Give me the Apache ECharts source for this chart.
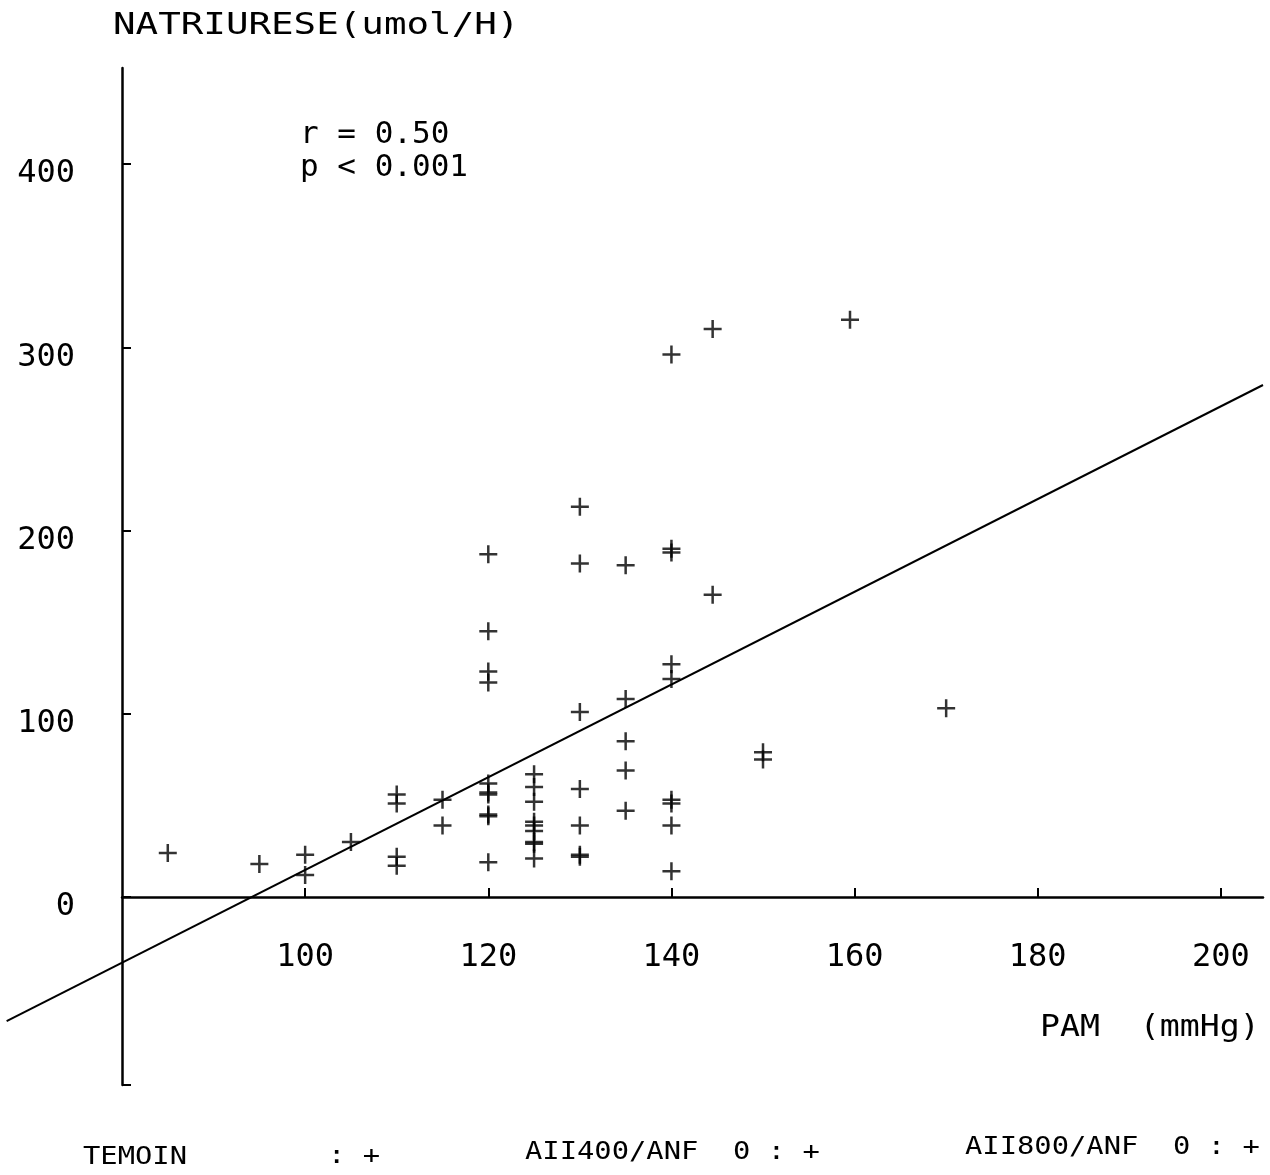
<!DOCTYPE html>
<html>
<head>
<meta charset="utf-8">
<script src="https://cdn.jsdelivr.net/npm/echarts@6/dist/echarts.min.js"></script>
<style>
html,body{margin:0;padding:0;background:#fff;}
#chart{width:1270px;height:1175px;}
</style>
</head>
<body>
<div id="chart"></div>
<script>
// PAM (mmHg) values of each point
const pam = [85,95,100,100,105,110,110,110,110,115,115,
  120,120,120,120,120,120,120,120,120,120,
  125,125,125,125,125,125,125,125,125,
  130,130,130,130,130,130,130,
  135,135,135,135,135,
  140,140,140,140,140,140,140,140,140,
  144.5,144.5,150,150,159.5,170];
// NATRIURESE (umol/H) values of each point
const natri = [24,18,23,12,30,56,51,22,17,53,39,
  187,145,123,117,62,57,56,45,44,19,
  67,60,52,41,39,36,30,29,21,
  213,182,101,59,39,23,22,
  181,108,85,69,47,
  296,190,188,127,119,53,51,39,14,
  310,165,79,75,315,103];
// regression line end points
const fitX = [67.4, 204.6];
const fitY = [-67.7, 279.4];
// tick labels
const xTicks = [100,120,140,160,180,200];
const yTicks = [0,100,200,300,400];

const FONT = '"DejaVu Sans Mono", monospace';
const chart = echarts.init(document.getElementById('chart'), null, {renderer:'canvas'});
chart.setOption({
  backgroundColor:'#fff',
  animation:false,
  grid:{left:122,right:7,top:68,bottom:90,containLabel:false},
  xAxis:{
    type:'value', min:80, max:204.6,
    axisLine:{onZero:true, lineStyle:{color:'#000', width:2.5}},
    axisTick:{show:true, inside:true, length:9, customValues:xTicks, lineStyle:{color:'#000', width:2}},
    axisLabel:{customValues:xTicks, margin:-143, color:'#000', fontFamily:FONT, fontSize:32},
    splitLine:{show:false}
  },
  yAxis:{
    type:'value', min:-102.6, max:452.4,
    axisLine:{onZero:false, lineStyle:{color:'#000', width:2.5}},
    axisTick:{show:true, inside:true, length:9, customValues:[-102.6].concat(yTicks), lineStyle:{color:'#000', width:2}},
    axisLabel:{customValues:yTicks, margin:47, color:'#000', fontFamily:FONT, fontSize:32, verticalAlign:'top', lineHeight:20},
    splitLine:{show:false}
  },
  series:[
    {
      type:'custom', clip:false, silent:true,
      data:[[fitX[0],fitY[0],fitX[1],fitY[1]]],
      renderItem:function(params, api){
        const p1 = api.coord([api.value(0), api.value(1)]);
        const p2 = api.coord([api.value(2), api.value(3)]);
        return {type:'line', shape:{x1:p1[0],y1:p1[1],x2:p2[0],y2:p2[1]}, style:{stroke:'#000', lineWidth:2}};
      }
    },
    {
      type:'scatter', silent:true,
      symbol:'path://M9,0L9,18M0,9L18,9', symbolSize:18,
      itemStyle:{color:'transparent', borderColor:'#000', borderWidth:2.5},
      data:pam.map((x,i)=>[x,natri[i]])
    }
  ],
  graphic:[
    {type:'text', x:113, y:26, scaleX:1.25, style:{text:'NATRIURESE(umol/H)', font:'30px '+FONT, fill:'#000', textVerticalAlign:'middle'}},
    {type:'text', x:300, y:135, style:{text:'r = 0.50', font:'31px '+FONT, fill:'#000', textVerticalAlign:'middle'}},
    {type:'text', x:300, y:168, style:{text:'p < 0.001', font:'31px '+FONT, fill:'#000', textVerticalAlign:'middle'}},
    {type:'text', x:1040, y:1028, scaleX:1.07, style:{text:'PAM  (mmHg)', font:'31px '+FONT, fill:'#000', textVerticalAlign:'middle'}},
    {type:'text', x:83, y:1158, scaleX:1.2, style:{text:'TEMOIN', font:'24px '+FONT, fill:'#000', textVerticalAlign:'middle'}},
    {type:'text', x:328, y:1157, scaleX:1.2, style:{text:': +', font:'24px '+FONT, fill:'#000', textVerticalAlign:'middle'}},
    {type:'text', x:525, y:1153, scaleX:1.2, style:{text:'AII400/ANF  0 : +', font:'24px '+FONT, fill:'#000', textVerticalAlign:'middle'}},
    {type:'text', x:965, y:1148, scaleX:1.2, style:{text:'AII800/ANF  0 : +', font:'24px '+FONT, fill:'#000', textVerticalAlign:'middle'}}
  ]
});
</script>
</body>
</html>
